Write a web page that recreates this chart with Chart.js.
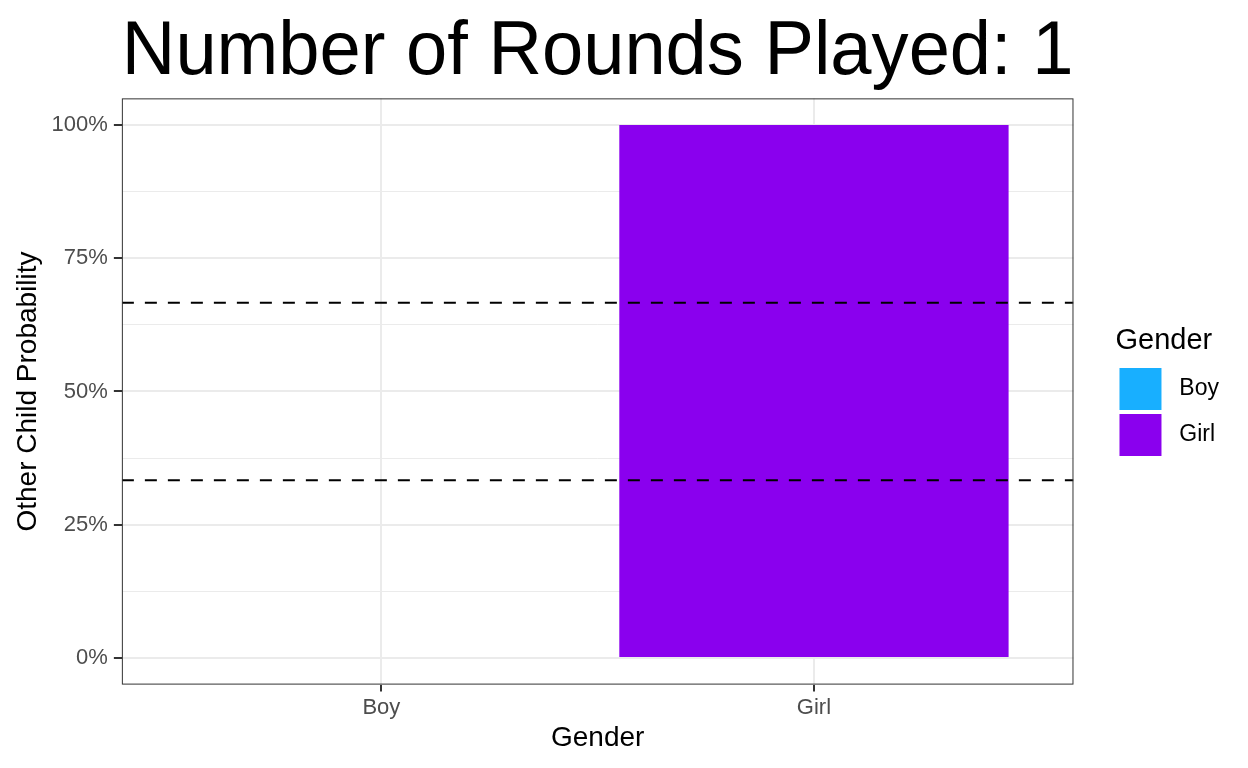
<!DOCTYPE html>
<html>
<head>
<meta charset="utf-8">
<title>Number of Rounds Played: 1</title>
<script src="https://cdn.jsdelivr.net/npm/chart.js@4"></script>
<style>
  html, body { margin: 0; padding: 0; background: #ffffff; }
  #wrap { width: 1248px; height: 768px; }
</style>
</head>
<body>
<div id="wrap"><canvas id="myChart" width="1248" height="768"></canvas></div>
<script>
// data
const categories = ['Boy', 'Girl'];
const probabilities = [0, 1];
const barColors = ['#18AFFF', '#8A00EE'];
const refLines = [0.3333, 0.6667];
const yMajorTicks = [0, 0.25, 0.5, 0.75, 1];
const yMinorTicks = [0.125, 0.375, 0.625, 0.875];

const fontFamily = '"Liberation Sans", Arial, Helvetica, sans-serif';

// panel border like ggplot theme_bw
const panelBorder = {
    id: 'panelBorder',
    afterDraw(chart) {
        const a = chart.chartArea;
        const ctx = chart.ctx;
        ctx.save();
        ctx.strokeStyle = '#333333';
        ctx.lineWidth = 1;
        ctx.strokeRect(a.left + 0.5, a.top + 0.5, a.right - a.left - 1, a.bottom - a.top - 1);
        ctx.restore();
    }
};

const datasets = [];
refLines.forEach(v => {
    datasets.push({
        type: 'line',
        label: 'ref',
        data: [{x: 0.4, y: v}, {x: 2.6, y: v}],
        borderColor: '#000000',
        borderWidth: 2,
        borderDash: [12, 11],
        pointRadius: 0,
        fill: false,
        order: 0
    });
});
datasets.push({
    type: 'bar',
    label: 'Gender',
    data: categories.map((c, i) => ({x: i + 1, y: probabilities[i]})),
    backgroundColor: barColors,
    borderWidth: 0,
    categoryPercentage: 0.9,
    barPercentage: 1,
    order: 1
});

const ctx = document.getElementById('myChart').getContext('2d');
const myChart = new Chart(ctx, {
    data: { datasets: datasets },
    options: {
        responsive: false,
        animation: false,
        layout: { padding: { left: 11, right: 19, top: 0, bottom: 16 } },
        plugins: {
            tooltip: { enabled: false },
            title: {
                display: true,
                text: 'Number of Rounds Played: 1',
                fullSize: false,
                color: '#000000',
                font: { family: fontFamily, size: 75.3, weight: 'normal' },
                padding: { top: 8, bottom: 0 }
            },
            legend: {
                position: 'right',
                align: 'center',
                title: {
                    display: true,
                    position: 'start',
                    text: 'Gender',
                    color: '#000000',
                    font: { family: fontFamily, size: 29 },
                    padding: { top: 34, bottom: 3 }
                },
                labels: {
                    boxWidth: 42,
                    boxHeight: 42,
                    padding: 4,
                    color: '#000000',
                    font: { family: fontFamily, size: 23 },
                    generateLabels: () => categories.map((c, i) => ({
                        text: ' ' + c,
                        fillStyle: barColors[i],
                        strokeStyle: barColors[i],
                        lineWidth: 0,
                        hidden: false,
                        datasetIndex: 0
                    }))
                }
            }
        },
        scales: {
            x: {
                type: 'linear',
                min: 0.4,
                max: 2.6,
                offset: false,
                afterBuildTicks: axis => {
                    axis.ticks = categories.map((c, i) => ({ value: i + 1 }));
                },
                ticks: {
                    autoSkip: false,
                    color: '#4d4d4d',
                    padding: 3,
                    font: { family: fontFamily, size: 22 },
                    callback: v => categories[v - 1]
                },
                grid: {
                    offset: false,
                    color: '#ebebeb',
                    lineWidth: 2,
                    drawTicks: true,
                    tickLength: 7,
                    tickColor: '#333333',
                    tickWidth: 2
                },
                border: { display: false },
                title: {
                    display: true,
                    text: 'Gender',
                    color: '#000000',
                    font: { family: fontFamily, size: 28, lineHeight: 1 },
                    padding: { top: 0, bottom: 0 }
                }
            },
            y: {
                type: 'linear',
                min: -0.05,
                max: 1.05,
                afterBuildTicks: axis => {
                    axis.ticks = yMajorTicks.concat(yMinorTicks)
                        .sort((a, b) => a - b)
                        .map(v => ({ value: v }));
                },
                ticks: {
                    autoSkip: false,
                    color: '#4d4d4d',
                    padding: 6,
                    font: { family: fontFamily, size: 22 },
                    callback: v => yMajorTicks.includes(v) ? Math.round(v * 100) + '%' : ''
                },
                grid: {
                    color: '#ebebeb',
                    lineWidth: c => yMajorTicks.includes(c.tick.value) ? 2 : 1,
                    drawTicks: true,
                    tickLength: 8,
                    tickColor: c => yMajorTicks.includes(c.tick.value) ? '#333333' : 'rgba(0,0,0,0)',
                    tickWidth: 2
                },
                border: { display: false },
                title: {
                    display: true,
                    text: 'Other Child Probability',
                    color: '#000000',
                    font: { family: fontFamily, size: 28 },
                    padding: { top: 0, bottom: 1 }
                }
            },
            // empty right-hand scale keeping a gap between panel and legend
            gap: {
                type: 'linear',
                position: 'right',
                display: true,
                afterFit: axis => { axis.width = 42; },
                ticks: { display: false },
                grid: { display: false, drawTicks: false },
                border: { display: false }
            }
        }
    },
    plugins: [panelBorder]
});
</script>
</body>
</html>
